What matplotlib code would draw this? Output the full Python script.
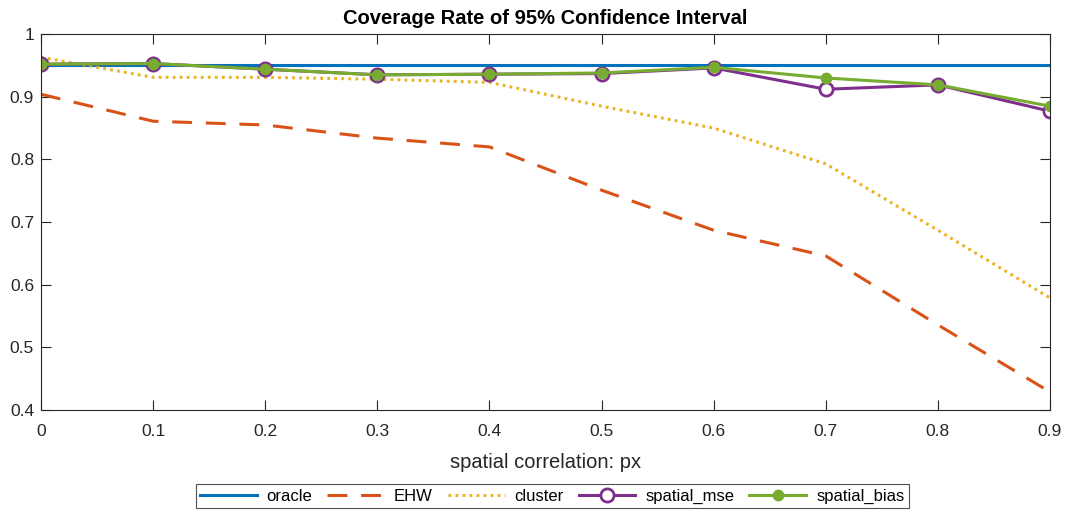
import matplotlib

matplotlib.use("Agg")
import matplotlib.pyplot as plt

plt.rcParams["font.family"] = ["Liberation Sans", "DejaVu Sans"]

# spatial correlation grid and coverage rates per estimator
px = [0.0, 0.1, 0.2, 0.3, 0.4, 0.5, 0.6, 0.7, 0.8, 0.9]
oracle = [0.950] * len(px)
ehw = [0.904, 0.861, 0.855, 0.834, 0.820, 0.751, 0.687, 0.646, 0.536, 0.429]
cluster = [0.963, 0.931, 0.931, 0.928, 0.923, 0.885, 0.850, 0.793, 0.687, 0.579]
spatial_mse = [0.952, 0.953, 0.944, 0.935, 0.936, 0.937, 0.946, 0.912, 0.919, 0.877]
spatial_bias = [0.952, 0.953, 0.944, 0.935, 0.936, 0.938, 0.947, 0.930, 0.919, 0.885]

AX_GREY = "#262626"

fig = plt.figure(figsize=(10.7, 5.12), dpi=100)
ax = fig.add_axes([0.0383, 0.199, 0.9430, 0.7344])

ax.plot(px, oracle, color="#0072BD", lw=2.2, label="oracle")
ax.plot(px, ehw, color="#D95319", lw=2.2, ls=(0, (6.5, 4.5)), label="EHW")
ax.plot(px, cluster, color="#EDB120", lw=2.2, ls=(0, (0.9, 1.4)), label="cluster")
ax.plot(px, spatial_mse, color="#7E2F8E", lw=2.2, marker="o", ms=9.5,
        mfc="white", mec="#7E2F8E", mew=2, label="spatial_mse")
ax.plot(px, spatial_bias, color="#77AC30", lw=2.2, marker="o", ms=7.5,
        mfc="#77AC30", mec="#77AC30", label="spatial_bias")

ax.set_xlim(0, 0.9)
ax.set_ylim(0.4, 1.0)
ax.set_xticks(px)
ax.set_xticklabels(["0", "0.1", "0.2", "0.3", "0.4", "0.5", "0.6", "0.7", "0.8", "0.9"])
ax.set_yticks([0.4, 0.5, 0.6, 0.7, 0.8, 0.9, 1.0])
ax.set_yticklabels(["0.4", "0.5", "0.6", "0.7", "0.8", "0.9", "1"])
ax.tick_params(direction="in", top=True, right=True, length=7, width=0.8,
               colors=AX_GREY, labelsize=12.5)
ax.tick_params(axis="x", pad=10)
ax.tick_params(axis="y", pad=5)
for s in ax.spines.values():
    s.set_color(AX_GREY)
    s.set_linewidth(0.8)

ax.set_xlabel("spatial correlation: px", fontsize=14.5, color=AX_GREY, labelpad=10)
ax.set_title("Coverage Rate of 95% Confidence Interval", fontsize=14.5,
             fontweight="bold", pad=7)

leg = fig.legend(loc="lower center", bbox_to_anchor=(0.516, 0.008), ncol=5,
                 fontsize=12, frameon=True, fancybox=False, edgecolor=AX_GREY,
                 handlelength=3.4, columnspacing=0.9, handletextpad=0.6,
                 borderpad=0.25, borderaxespad=0)
leg.get_frame().set_linewidth(0.8)

fig.savefig("out.png", dpi=100)
